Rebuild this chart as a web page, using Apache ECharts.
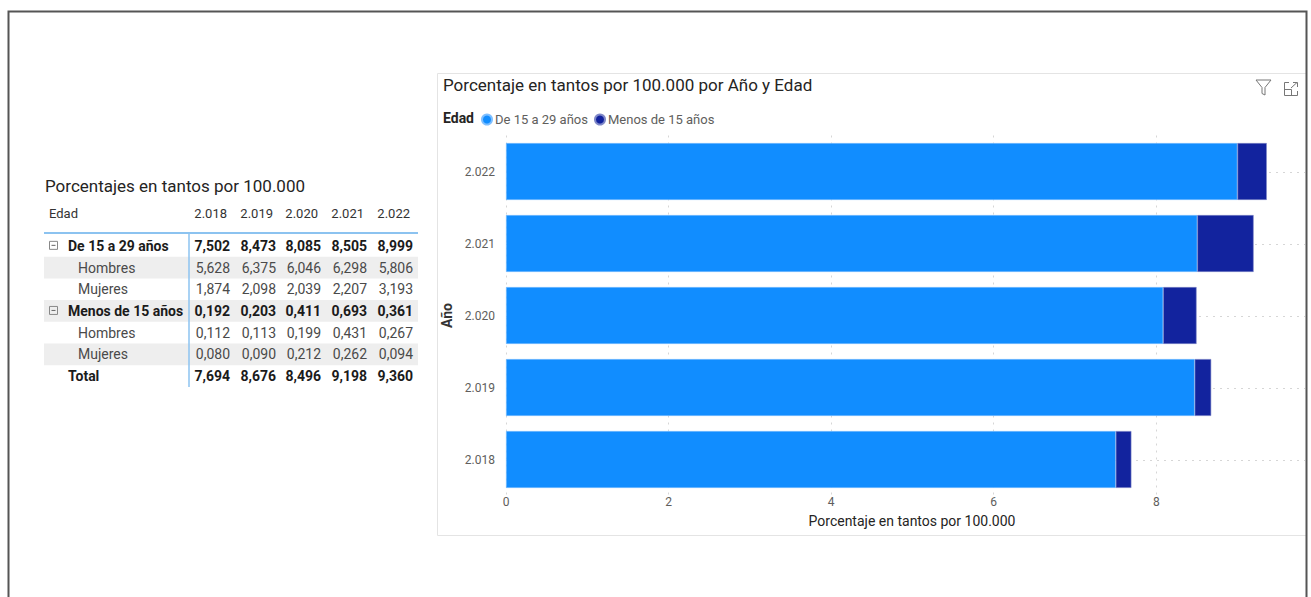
<!DOCTYPE html>
<html>
<head>
<meta charset="utf-8">
<script src="https://cdn.jsdelivr.net/npm/echarts@6/dist/echarts.min.js"></script>
<style>
html,body{margin:0;padding:0;background:#fff;}
#main{width:1311px;height:597px;}
</style>
</head>
<body>
<div id="main"></div>
<script>
// ---- data ----
const years = ['2.018', '2.019', '2.020', '2.021', '2.022'];
const seriesNames = ['De 15 a 29 años', 'Menos de 15 años'];
const de15a29 = [7.502, 8.473, 8.085, 8.505, 8.999];
const menos15 = [0.192, 0.203, 0.411, 0.693, 0.361];
const hombres15a29 = [5.628, 6.375, 6.046, 6.298, 5.806];
const mujeres15a29 = [1.874, 2.098, 2.039, 2.207, 3.193];
const hombresMenos15 = [0.112, 0.113, 0.199, 0.431, 0.267];
const mujeresMenos15 = [0.080, 0.090, 0.212, 0.262, 0.094];
const totals = [7.694, 8.676, 8.496, 9.198, 9.360];
const xTicks = [0, 2, 4, 6, 8];

const FONT = 'Roboto, "Noto Sans", sans-serif';
const fmt = v => v.toFixed(3).replace('.', ',');

// ---- table (graphic) ----
const tableRows = [
  {label: 'De 15 a 29 años', vals: de15a29, bold: true, icon: true, shade: false},
  {label: 'Hombres', vals: hombres15a29, bold: false, shade: true},
  {label: 'Mujeres', vals: mujeres15a29, bold: false, shade: false},
  {label: 'Menos de 15 años', vals: menos15, bold: true, icon: true, shade: true},
  {label: 'Hombres', vals: hombresMenos15, bold: false, shade: false},
  {label: 'Mujeres', vals: mujeresMenos15, bold: false, shade: true},
  {label: 'Total', vals: totals, bold: true, shade: false}
];
const colRight = [230, 276, 321, 367, 413];
const rowTop0 = 235, rowH = 21.7;
const g = [];
// outer frame
g.push({type: 'rect', shape: {x: 8.5, y: 11.5, width: 1298, height: 620}, style: {fill: 'none', stroke: '#555', lineWidth: 2}, z: 10});
// visual border
g.push({type: 'rect', shape: {x: 437.5, y: 73.5, width: 869, height: 462}, style: {fill: 'none', stroke: '#e4e4e4', lineWidth: 1}, z: 0});
// chart title
g.push({type: 'text', x: 443, y: 85, style: {text: 'Porcentaje en tantos por 100.000 por Año y Edad', font: '17px ' + FONT, fill: '#252423', textVerticalAlign: 'middle'}});
g.push({type: 'text', x: 443, y: 118, style: {text: 'Edad', font: 'bold 14px ' + FONT, fill: '#252423', textVerticalAlign: 'middle'}});
// icons
g.push({type: 'polygon', shape: {points: [[1256, 80], [1271, 80], [1265, 87.5], [1265, 95], [1262, 93.5], [1262, 87.5]]}, style: {fill: 'none', stroke: '#777', lineWidth: 1}});
g.push({type: 'polyline', shape: {points: [[1289, 82.5], [1284.5, 82.5], [1284.5, 95.5], [1297.5, 95.5], [1297.5, 91]]}, style: {fill: 'none', stroke: '#777', lineWidth: 1}});
g.push({type: 'polyline', shape: {points: [[1284.5, 89.5], [1291.5, 89.5], [1291.5, 95.5]]}, style: {fill: 'none', stroke: '#777', lineWidth: 1}});
g.push({type: 'polyline', shape: {points: [[1291, 88], [1297, 82.5]]}, style: {fill: 'none', stroke: '#777', lineWidth: 1}});
g.push({type: 'polyline', shape: {points: [[1293, 82.5], [1297.5, 82.5], [1297.5, 87]]}, style: {fill: 'none', stroke: '#777', lineWidth: 1}});

// table title & header
g.push({type: 'text', x: 45, y: 186, style: {text: 'Porcentajes en tantos por 100.000', font: '17px ' + FONT, fill: '#252423', textVerticalAlign: 'middle'}});
g.push({type: 'text', x: 49, y: 213, style: {text: 'Edad', font: '13px ' + FONT, fill: '#333', textVerticalAlign: 'middle'}});
years.forEach((y, i) => {
  g.push({type: 'text', x: colRight[i] - 3, y: 213, style: {text: y, font: '13px ' + FONT, fill: '#333', textAlign: 'right', textVerticalAlign: 'middle'}});
});
tableRows.forEach((r, k) => {
  const top = rowTop0 + k * rowH;
  const cy = top + rowH / 2;
  if (r.shade) g.push({type: 'rect', shape: {x: 44, y: top, width: 374, height: rowH}, style: {fill: '#eeeeee'}, z: 0});
  let lx = r.bold ? 68 : 78;
  if (r.icon) {
    g.push({type: 'rect', shape: {x: 49.5, y: cy - 4.5, width: 8, height: 8}, style: {fill: 'none', stroke: '#888', lineWidth: 1}, z: 2});
    g.push({type: 'line', shape: {x1: 51.5, y1: cy - 0.5, x2: 55.5, y2: cy - 0.5}, style: {stroke: '#666', lineWidth: 1}, z: 2});
  }
  g.push({type: 'text', x: lx, y: cy, z: 2, style: {text: r.label, font: (r.bold ? 'bold ' : '') + '14px ' + FONT, fill: r.bold ? '#1b1b1b' : '#4a4a4a', textVerticalAlign: 'middle'}});
  r.vals.forEach((v, i) => {
    g.push({type: 'text', x: colRight[i], y: cy, z: 2, style: {text: fmt(v), font: (r.bold ? 'bold ' : '') + '14px ' + FONT, fill: r.bold ? '#1b1b1b' : '#4a4a4a', textAlign: 'right', textVerticalAlign: 'middle'}});
  });
});
g.push({type: 'line', shape: {x1: 44, y1: 233, x2: 418, y2: 233}, style: {stroke: '#8cc3f0', lineWidth: 2}, z: 3});
g.push({type: 'line', shape: {x1: 189, y1: 233, x2: 189, y2: 387}, style: {stroke: '#8cc3f0', lineWidth: 1.5}, z: 3});

const gridLineStyle = {stroke: '#d6d6d6', lineWidth: 1, lineDash: [2, 5]};

const chart = echarts.init(document.getElementById('main'), null, {renderer: 'svg'});
chart.setOption({
  animation: false,
  textStyle: {fontFamily: FONT},
  legend: {
    left: 476, top: 108, itemWidth: 10, itemHeight: 10, itemGap: 6, icon: 'circle',
    data: seriesNames,
    textStyle: {fontSize: 13, color: '#605E5C', fontFamily: FONT, padding: [0, 0, 0, -2]}
  },
  grid: {left: 506, right: 6, top: 135.5, bottom: 101.5},
  xAxis: {
    type: 'value', min: 0, max: 9.83, interval: 2,
    name: 'Porcentaje en tantos por 100.000', nameLocation: 'middle', nameGap: 18,
    nameTextStyle: {fontSize: 14, color: '#252423', padding: [0, 0, 0, 13]},
    axisLine: {show: false}, axisTick: {show: false},
    axisLabel: {color: '#605E5C', fontSize: 12, margin: 0, showMaxLabel: false,
      formatter: v => xTicks.indexOf(v) >= 0 ? String(v) : ''},
    splitLine: {show: true, showMaxLine: false, lineStyle: {color: '#d6d6d6', type: [2, 5], width: 1}}
  },
  yAxis: {
    type: 'category', data: years,
    name: 'Año', nameLocation: 'middle', nameGap: 49, nameRotate: 90,
    nameTextStyle: {fontSize: 14, fontWeight: 'bold', color: '#333'},
    axisLine: {show: false}, axisTick: {show: false},
    axisLabel: {color: '#605E5C', fontSize: 12, margin: 11},
    splitLine: {show: false}
  },
  series: [
    {
      name: 'grid-rows', type: 'custom', z: 0, silent: true,
      data: years.map((y, i) => [0, i]),
      renderItem: (params, api) => {
        const cs = params.coordSys;
        const yy = Math.round(api.coord([0, api.value(1)])[1]) + 0.5;
        return {type: 'line', shape: {x1: cs.x, y1: yy, x2: cs.x + cs.width, y2: yy}, style: gridLineStyle, z2: 0};
      }
    },
    {
      name: seriesNames[0], type: 'bar', stack: 'a', data: de15a29, z: 3,
      barCategoryGap: '21%',
      itemStyle: {color: '#118DFF', borderColor: '#7fbfff', borderWidth: 0.6}
    },
    {
      name: seriesNames[1], type: 'bar', stack: 'a', data: menos15, z: 3,
      barCategoryGap: '21%',
      itemStyle: {color: '#12239E', borderColor: '#7f88c8', borderWidth: 0.6}
    }
  ],
  graphic: {elements: g}
});
</script>
</body>
</html>
